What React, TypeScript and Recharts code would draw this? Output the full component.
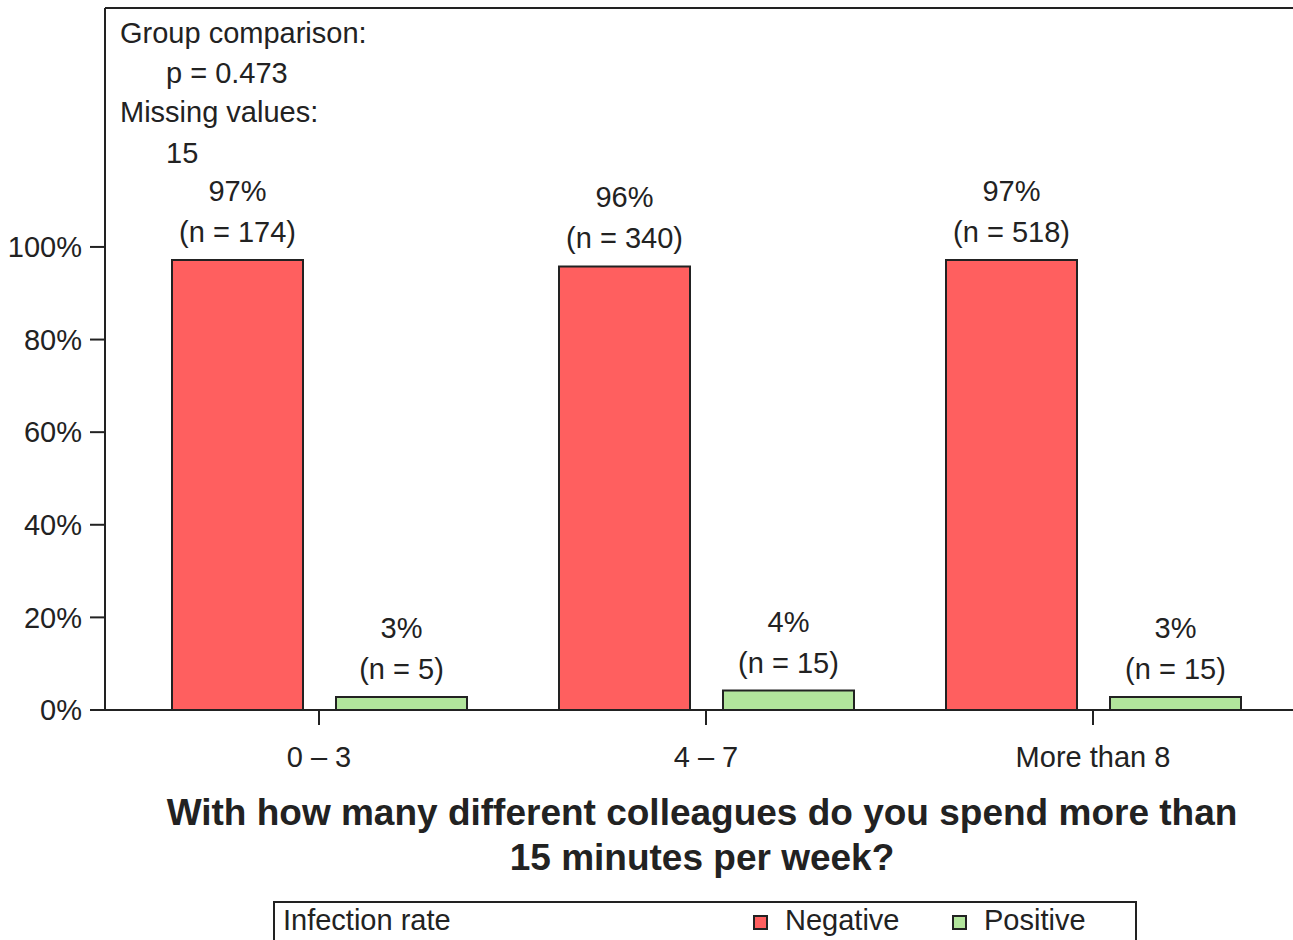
import { BarChart, Bar, XAxis, YAxis, Legend, LabelList, ReferenceLine, Customized } from "recharts";

const categories = ["0 – 3", "4 – 7", "More than 8"];
const negativePct = [97.2, 95.8, 97.2];
const negativeN = [174, 340, 518];
const positivePct = [2.8, 4.2, 2.8];
const positiveN = [5, 15, 15];
const yTicks = [0, 20, 40, 60, 80, 100];
const yMax = 151.6;

const data = categories.map((c, i) => ({
  name: c,
  negative: negativePct[i],
  positive: positivePct[i],
}));

const RED = "#FF5F5F";
const GREEN = "#B2E59C";
const INK = "#222";

const makeLabel = (counts: number[]) => (props: any) => {
  const { x, y, width, value, index } = props;
  const cx = x + width / 2;
  return (
    <g>
      <text x={cx} y={y - 59} textAnchor="middle" fontSize={29} fill={INK}>
        {Math.round(value)}%
      </text>
      <text x={cx} y={y - 18} textAnchor="middle" fontSize={29} fill={INK}>
        (n = {counts[index]})
      </text>
    </g>
  );
};

const Notes = () => (
  <g fill={INK}>
    <text x={120} y={43} fontSize={29}>Group comparison:</text>
    <text x={166} y={83} fontSize={29}>p = 0.473</text>
    <text x={120} y={122} fontSize={29}>Missing values:</text>
    <text x={166} y={163} fontSize={29}>15</text>
    <text x={702} y={825} fontSize={37} fontWeight="bold" textAnchor="middle">
      With how many different colleagues do you spend more than
    </text>
    <text x={702} y={870} fontSize={37} fontWeight="bold" textAnchor="middle">
      15 minutes per week?
    </text>
  </g>
);

const LegendBox = (props: any) => {
  const items = props.payload || [];
  return (
    <svg width={864} height={39} style={{ display: "block" }}>
      <path d="M1,39 V1 H863 V39" fill="none" stroke={INK} strokeWidth={2} />
      <text x={10} y={29} fontSize={29} fill={INK}>Infection rate</text>
      {items.map((it: any, i: number) => (
        <g key={it.value}>
          <rect x={481 + i * 199} y={15} width={13} height={13} fill={it.color} stroke={INK} strokeWidth={2} />
          <text x={512 + i * 199} y={29} fontSize={29} fill={INK}>{it.value}</text>
        </g>
      ))}
    </svg>
  );
};

export default function App() {
  return (
    <div
      style={{
        position: "absolute",
        left: 0,
        top: 0,
        width: 1293,
        height: 940,
        overflow: "hidden",
        background: "#fff",
        fontFamily: "'Liberation Sans', Arial, sans-serif",
      }}
    >
      <BarChart
        width={1293}
        height={940}
        data={data}
        margin={{ top: 8, right: 0, left: 0, bottom: 170 }}
        barCategoryGap={46.5}
        barGap={33}
      >
        <XAxis
          dataKey="name"
          height={60}
          padding={{ left: 20.5, right: 6.5 }}
          axisLine={{ stroke: INK, strokeWidth: 2 }}
          tickLine={{ stroke: INK, strokeWidth: 2 }}
          tickSize={15}
          tickMargin={21}
          tick={{ fontSize: 29, fill: INK }}
        />
        <YAxis
          width={105}
          domain={[0, yMax]}
          ticks={yTicks}
          allowDataOverflow
          tickFormatter={(v) => `${v}%`}
          axisLine={{ stroke: INK, strokeWidth: 2 }}
          tickLine={{ stroke: INK, strokeWidth: 2 }}
          tickSize={15}
          tickMargin={8}
          tick={{ fontSize: 29, fill: INK }}
        />
        <ReferenceLine y={yMax} stroke={INK} strokeWidth={2} />
        <Legend
          verticalAlign="middle"
          align="center"
          layout="horizontal"
          wrapperStyle={{ top: 901, left: 273, width: 864, height: 39 }}
          content={LegendBox}
        />
        <Bar dataKey="negative" name="Negative" fill={RED} stroke={INK} strokeWidth={2} isAnimationActive={false}>
          <LabelList dataKey="negative" content={makeLabel(negativeN)} />
        </Bar>
        <Bar dataKey="positive" name="Positive" fill={GREEN} stroke={INK} strokeWidth={2} isAnimationActive={false}>
          <LabelList dataKey="positive" content={makeLabel(positiveN)} />
        </Bar>
        <Customized component={Notes} />
      </BarChart>
    </div>
  );
}
